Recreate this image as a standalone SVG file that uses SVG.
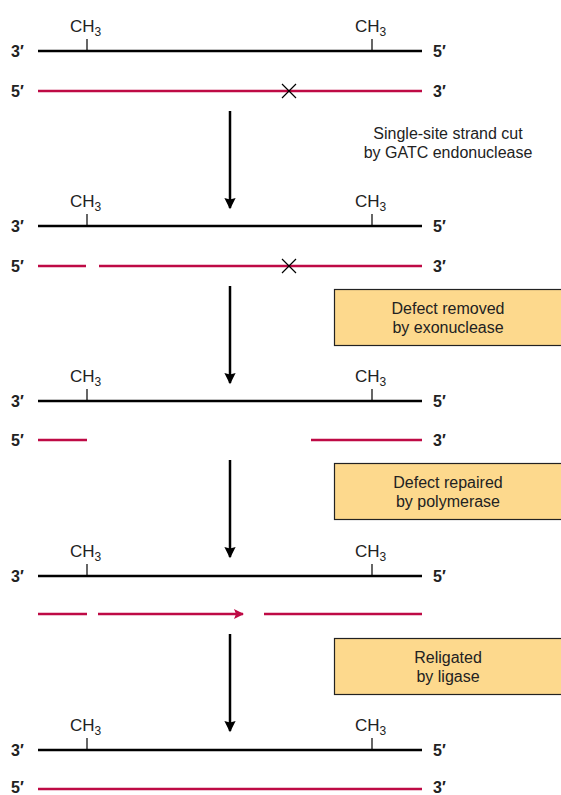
<svg xmlns="http://www.w3.org/2000/svg" width="561" height="795" viewBox="0 0 561 795">
<style>
.bk{stroke:#000;stroke-width:2.5;fill:none}
.tk{stroke:#000;stroke-width:1.2;fill:none}
.rd{stroke:#BE0A45;stroke-width:2.5;fill:none}
.ar{stroke:#000;stroke-width:2.5;fill:none}
.lb{font-family:"Liberation Sans",Arial,sans-serif;font-size:16px;font-weight:bold;fill:#222}
.ch{font-family:"Liberation Sans",Arial,sans-serif;font-size:17px;fill:#222}
.sb{font-size:12px}
.tx{font-family:"Liberation Sans",Arial,sans-serif;font-size:16px;fill:#222;text-anchor:middle}
.bx{fill:#FDD98D;stroke:#222;stroke-width:1.2}
</style>
<defs>
<marker id="ah" viewBox="0 0 10 10" refX="9" refY="5" markerWidth="5" markerHeight="4.5" orient="auto" markerUnits="strokeWidth"><path d="M0,0 L10,5 L0,10 L1.5,5 z" fill="#000"/></marker>
<marker id="rh" viewBox="0 0 10 10" refX="9" refY="5" markerWidth="5" markerHeight="4" orient="auto" markerUnits="strokeWidth"><path d="M0,0 L10,5 L0,10 L2,5 z" fill="#BE0A45"/></marker>
<g id="ch3"><text class="ch" x="0" y="0">CH<tspan class="sb" dy="4">3</tspan></text></g>
</defs>

<g id="stage1">
<use href="#ch3" x="70" y="32"/><use href="#ch3" x="355" y="32"/>
<line class="bk" x1="38" y1="51" x2="422" y2="51"/>
<line class="tk" x1="87" y1="39" x2="87" y2="51"/><line class="tk" x1="372" y1="39" x2="372" y2="51"/>
<text class="lb" x="11" y="57">3′</text><text class="lb" x="433" y="57">5′</text>
<line class="rd" x1="38" y1="91" x2="422" y2="91"/>
<path class="tk" d="M282,84 L296,98 M296,84 L282,98"/>
<text class="lb" x="11" y="97">5′</text><text class="lb" x="433" y="97">3′</text>
</g>

<g id="stage2">
<use href="#ch3" x="70" y="207"/><use href="#ch3" x="355" y="207"/>
<line class="bk" x1="38" y1="226" x2="422" y2="226"/>
<line class="tk" x1="87" y1="214" x2="87" y2="226"/><line class="tk" x1="372" y1="214" x2="372" y2="226"/>
<text class="lb" x="11" y="232">3′</text><text class="lb" x="433" y="232">5′</text>
<line class="rd" x1="38" y1="266" x2="86" y2="266"/><line class="rd" x1="99" y1="266" x2="422" y2="266"/>
<path class="tk" d="M282,259 L296,273 M296,259 L282,273"/>
<text class="lb" x="11" y="272">5′</text><text class="lb" x="433" y="272">3′</text>
</g>

<g id="stage3">
<use href="#ch3" x="70" y="382"/><use href="#ch3" x="355" y="382"/>
<line class="bk" x1="38" y1="401" x2="422" y2="401"/>
<line class="tk" x1="87" y1="389" x2="87" y2="401"/><line class="tk" x1="372" y1="389" x2="372" y2="401"/>
<text class="lb" x="11" y="407">3′</text><text class="lb" x="433" y="407">5′</text>
<line class="rd" x1="38" y1="440" x2="87" y2="440"/><line class="rd" x1="311" y1="440" x2="422" y2="440"/>
<text class="lb" x="11" y="446">5′</text><text class="lb" x="433" y="446">3′</text>
</g>

<g id="stage4">
<use href="#ch3" x="70" y="557"/><use href="#ch3" x="355" y="557"/>
<line class="bk" x1="38" y1="576" x2="422" y2="576"/>
<line class="tk" x1="87" y1="564" x2="87" y2="576"/><line class="tk" x1="372" y1="564" x2="372" y2="576"/>
<text class="lb" x="11" y="582">3′</text><text class="lb" x="433" y="582">5′</text>
<line class="rd" x1="38" y1="614" x2="87" y2="614"/>
<line class="rd" x1="98" y1="614" x2="243" y2="614" marker-end="url(#rh)"/>
<line class="rd" x1="264" y1="614" x2="422" y2="614"/>
</g>

<g id="stage5">
<use href="#ch3" x="70" y="731"/><use href="#ch3" x="355" y="731"/>
<line class="bk" x1="38" y1="750" x2="422" y2="750"/>
<line class="tk" x1="87" y1="738" x2="87" y2="750"/><line class="tk" x1="372" y1="738" x2="372" y2="750"/>
<text class="lb" x="11" y="756">3′</text><text class="lb" x="433" y="756">5′</text>
<line class="rd" x1="38" y1="789" x2="422" y2="789"/>
<text class="lb" x="11" y="793">5′</text><text class="lb" x="433" y="793">3′</text>
</g>

<g id="label1">
<text class="tx" x="448" y="139">Single-site strand cut</text>
<text class="tx" x="448" y="158">by GATC endonuclease</text>
</g>
<g id="box1">
<rect class="bx" x="334.5" y="289.5" width="240" height="56"/>
<text class="tx" x="448" y="314">Defect removed</text>
<text class="tx" x="448" y="333">by exonuclease</text>
</g>
<g id="box2">
<rect class="bx" x="334.5" y="463.5" width="240" height="56"/>
<text class="tx" x="448" y="488">Defect repaired</text>
<text class="tx" x="448" y="507">by polymerase</text>
</g>
<g id="box3">
<rect class="bx" x="334.5" y="638.5" width="240" height="56"/>
<text class="tx" x="448" y="663">Religated</text>
<text class="tx" x="448" y="682">by ligase</text>
</g>

<g id="connectors">
<line class="ar" x1="230" y1="111" x2="230" y2="208" marker-end="url(#ah)"/>
<line class="ar" x1="230" y1="286" x2="230" y2="383" marker-end="url(#ah)"/>
<line class="ar" x1="230" y1="460" x2="230" y2="557" marker-end="url(#ah)"/>
<line class="ar" x1="230" y1="634" x2="230" y2="731" marker-end="url(#ah)"/>
</g>
</svg>
